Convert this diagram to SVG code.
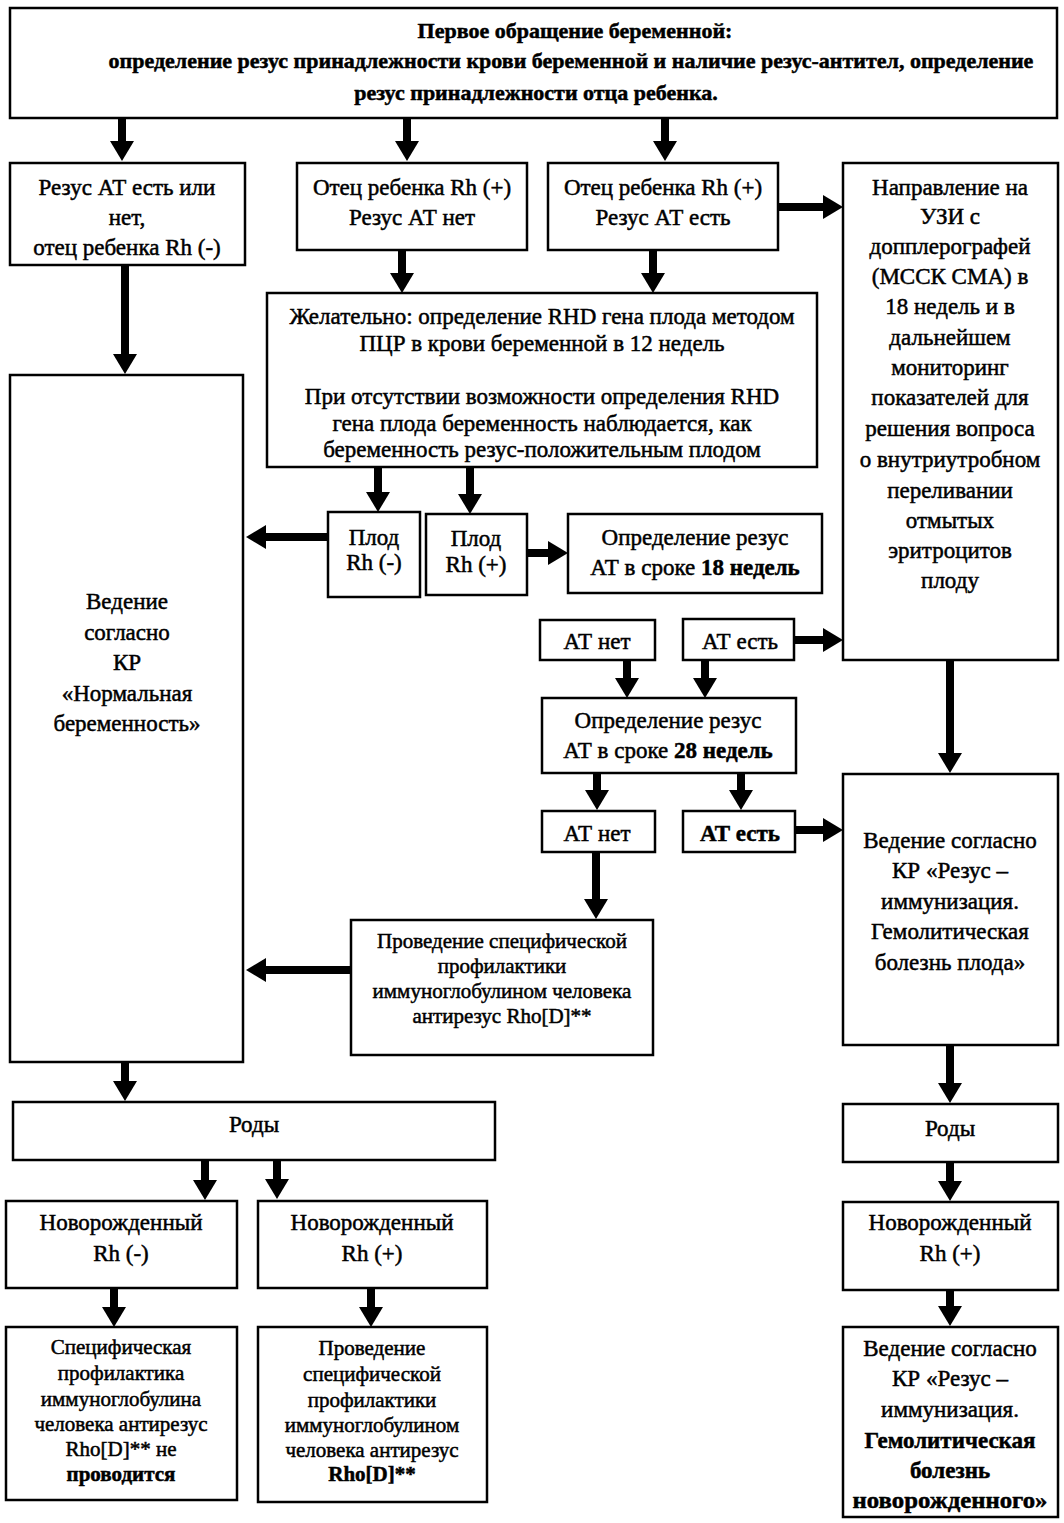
<svg xmlns="http://www.w3.org/2000/svg" width="1064" height="1523" viewBox="0 0 1064 1523">
<style>
rect{fill:#fff;stroke:#000;stroke-width:2.5}
text{font-family:"Liberation Serif","Times New Roman",serif;font-size:23px;fill:#000;stroke:#000;stroke-width:0.5;text-anchor:middle}
.b{font-weight:bold}
.t{font-size:22px;font-weight:bold}
.s{font-size:21px}
.m{font-size:21px}
.c line{stroke:#000;stroke-width:8;marker-end:url(#ah)}
</style>
<defs>
<marker id="ah" markerUnits="userSpaceOnUse" markerWidth="20" markerHeight="24" viewBox="0 0 20 24" refX="0" refY="12" orient="auto">
<path d="M0,0 L20,12 L0,24 z" fill="#000"/>
</marker>
</defs>
<rect x="0" y="0" width="1064" height="1523" style="stroke:none"/>
<g id="top"><rect x="10" y="8" width="1047" height="110"/>
<text class="t" x="575" y="38">Первое обращение беременной:</text>
<text class="t" x="571" y="68">определение резус принадлежности крови беременной и наличие резус-антител, определение</text>
<text class="t" x="536" y="100">резус принадлежности отца ребенка.</text></g>
<g id="nA"><rect x="10" y="163" width="235" height="102"/>
<text x="127" y="195">Резус АТ есть или</text><text x="127" y="225">нет,</text><text x="127" y="255">отец ребенка Rh (-)</text></g>
<g id="nB"><rect x="297" y="163" width="230" height="87"/>
<text x="412" y="195">Отец ребенка Rh (+)</text><text x="412" y="225">Резус АТ нет</text></g>
<g id="nC"><rect x="548" y="163" width="230" height="87"/>
<text x="663" y="195">Отец ребенка Rh (+)</text><text x="663" y="225">Резус АТ есть</text></g>
<g id="nD"><rect x="843" y="163" width="215" height="497"/>
<text x="950" y="195">Направление на</text><text x="950" y="224">УЗИ с</text><text x="950" y="254">допплерографей</text><text x="950" y="284">(МССК СМА) в</text><text x="950" y="314">18 недель и в</text><text x="950" y="345">дальнейшем</text><text x="950" y="375">мониторинг</text><text x="950" y="405">показателей для</text><text x="950" y="436">решения вопроса</text><text x="950" y="467">о внутриутробном</text><text x="950" y="498">переливании</text><text x="950" y="528">отмытых</text><text x="950" y="558">эритроцитов</text><text x="950" y="588">плоду</text></g>
<g id="nE"><rect x="267" y="293" width="550" height="174"/>
<text x="542" y="324">Желательно: определение RHD гена плода методом</text><text x="542" y="351">ПЦР в крови беременной в 12 недель</text><text x="542" y="404">При отсутствии возможности определения RHD</text><text x="542" y="431">гена плода беременность наблюдается, как</text><text x="542" y="457">беременность резус-положительным плодом</text></g>
<g id="nF"><rect x="10" y="375" width="233" height="687"/>
<text x="127" y="609">Ведение</text><text x="127" y="640">согласно</text><text x="127" y="670">КР</text><text x="127" y="701">«Нормальная</text><text x="127" y="731">беременность»</text></g>
<g id="nG"><rect x="328" y="512" width="92" height="85"/>
<text x="374" y="545">Плод</text><text x="374" y="570">Rh (-)</text></g>
<g id="nH"><rect x="426" y="514" width="101" height="81"/>
<text x="476" y="546">Плод</text><text x="476" y="572">Rh (+)</text></g>
<g id="nI"><rect x="568" y="514" width="254" height="79"/>
<text x="695" y="545">Определение резус</text><text x="695" y="575">АТ в сроке <tspan class="b">18 недель</tspan></text></g>
<g id="nJ"><rect x="540" y="620" width="115" height="40"/>
<text x="597" y="649">АТ нет</text></g>
<g id="nK"><rect x="683" y="619" width="111" height="41"/>
<text x="740" y="649">АТ есть</text></g>
<g id="nL"><rect x="542" y="698" width="254" height="75"/>
<text x="668" y="728">Определение резус</text><text x="668" y="758">АТ в сроке <tspan class="b">28 недель</tspan></text></g>
<g id="nM"><rect x="843" y="774" width="215" height="271"/>
<text x="950" y="848">Ведение согласно</text><text x="950" y="878">КР «Резус –</text><text x="950" y="909">иммунизация.</text><text x="950" y="939">Гемолитическая</text><text x="950" y="970">болезнь плода»</text></g>
<g id="nN"><rect x="542" y="811" width="113" height="41"/>
<text x="597" y="841">АТ нет</text></g>
<g id="nO"><rect x="683" y="811" width="112" height="41"/>
<text class="b" x="740" y="841">АТ есть</text></g>
<g id="nP"><rect x="351" y="920" width="302" height="135"/>
<text class="s" x="502" y="948">Проведение специфической</text><text class="s" x="502" y="973">профилактики</text><text class="s" x="502" y="998">иммуноглобулином человека</text><text class="s" x="502" y="1023">антирезус Rho[D]**</text></g>
<g id="nQ"><rect x="13" y="1102" width="482" height="58"/>
<text x="254" y="1132">Роды</text></g>
<g id="nR"><rect x="6" y="1201" width="231" height="87"/>
<text x="121" y="1230">Новорожденный</text><text x="121" y="1261">Rh (-)</text></g>
<g id="nS"><rect x="258" y="1201" width="229" height="87"/>
<text x="372" y="1230">Новорожденный</text><text x="372" y="1261">Rh (+)</text></g>
<g id="nT"><rect x="6" y="1327" width="231" height="173"/>
<text class="m" x="121" y="1354">Специфическая</text><text class="m" x="121" y="1380">профилактика</text><text class="m" x="121" y="1406">иммуноглобулина</text><text class="m" x="121" y="1431">человека антирезус</text><text class="m" x="121" y="1456">Rho[D]** не</text><text class="m b" x="121" y="1481">проводится</text></g>
<g id="nU"><rect x="258" y="1327" width="229" height="175"/>
<text class="m" x="372" y="1355">Проведение</text><text class="m" x="372" y="1381">специфической</text><text class="m" x="372" y="1407">профилактики</text><text class="m" x="372" y="1432">иммуноглобулином</text><text class="m" x="372" y="1457">человека антирезус</text><text class="m b" x="372" y="1481">Rho[D]**</text></g>
<g id="nV"><rect x="843" y="1104" width="215" height="58"/>
<text x="950" y="1136">Роды</text></g>
<g id="nW"><rect x="843" y="1202" width="215" height="88"/>
<text x="950" y="1230">Новорожденный</text><text x="950" y="1261">Rh (+)</text></g>
<g id="nX"><rect x="843" y="1327" width="215" height="190"/>
<text x="950" y="1356">Ведение согласно</text><text x="950" y="1386">КР «Резус –</text><text x="950" y="1417">иммунизация.</text><text class="b" x="950" y="1448">Гемолитическая</text><text class="b" x="950" y="1478">болезнь</text><text class="b" x="950" y="1508" textLength="195" lengthAdjust="spacingAndGlyphs">новорожденного»</text></g>
<g class="c" id="connectors">
<line x1="122" y1="118" x2="122" y2="141"/>
<line x1="407" y1="118" x2="407" y2="141"/>
<line x1="665" y1="118" x2="665" y2="141"/>
<line x1="778" y1="207" x2="823" y2="207"/>
<line x1="402" y1="250" x2="402" y2="273"/>
<line x1="653" y1="250" x2="653" y2="273"/>
<line x1="125" y1="265" x2="125" y2="354"/>
<line x1="378" y1="467" x2="378" y2="492"/>
<line x1="470" y1="467" x2="470" y2="494"/>
<line x1="328" y1="537" x2="266" y2="537"/>
<line x1="527" y1="553" x2="548" y2="553"/>
<line x1="794" y1="640" x2="823" y2="640"/>
<line x1="627" y1="660" x2="627" y2="678"/>
<line x1="705" y1="660" x2="705" y2="678"/>
<line x1="950" y1="660" x2="950" y2="753"/>
<line x1="597" y1="773" x2="597" y2="790"/>
<line x1="741" y1="773" x2="741" y2="790"/>
<line x1="795" y1="830" x2="823" y2="830"/>
<line x1="596" y1="852" x2="596" y2="899"/>
<line x1="351" y1="970" x2="266" y2="970"/>
<line x1="125" y1="1062" x2="125" y2="1081"/>
<line x1="205" y1="1160" x2="205" y2="1180"/>
<line x1="277" y1="1160" x2="277" y2="1179"/>
<line x1="114" y1="1288" x2="114" y2="1307"/>
<line x1="371" y1="1288" x2="371" y2="1307"/>
<line x1="950" y1="1045" x2="950" y2="1083"/>
<line x1="950" y1="1162" x2="950" y2="1181"/>
<line x1="950" y1="1290" x2="950" y2="1306"/>
</g>
</svg>
